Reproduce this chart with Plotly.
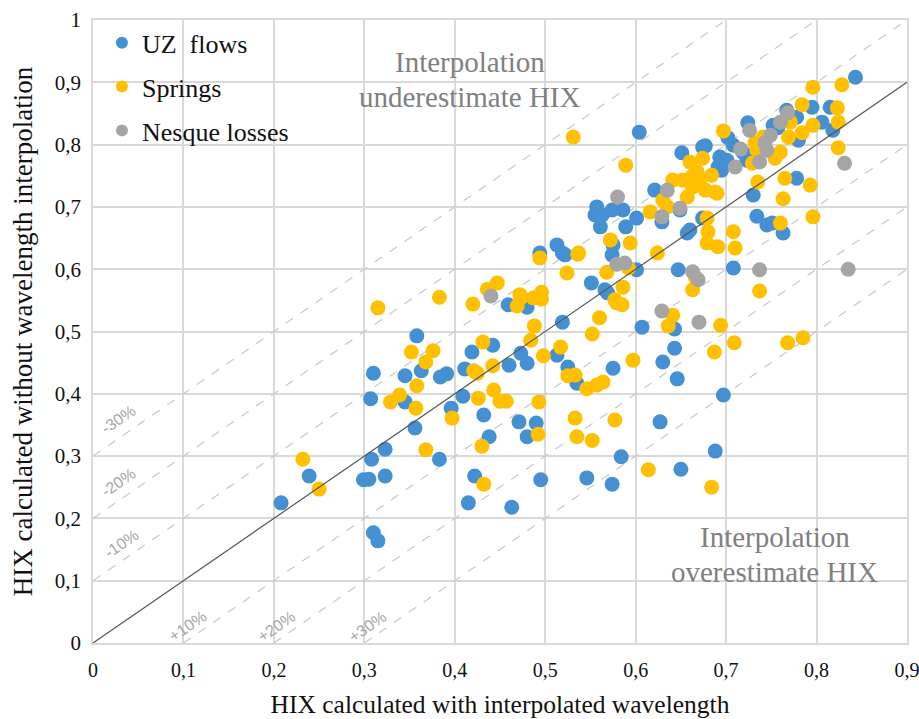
import plotly.graph_objects as go

# ---------------- data ----------------
uz_x = [0.208, 0.239, 0.310, 0.307, 0.308, 0.299, 0.305, 0.310, 0.315, 0.323, 0.323,
        0.358, 0.345, 0.363, 0.384, 0.391, 0.419, 0.442, 0.411, 0.460, 0.473, 0.480,
        0.519, 0.513, 0.525, 0.535, 0.345, 0.356, 0.409, 0.396, 0.432, 0.471, 0.490,
        0.480, 0.438, 0.383, 0.422, 0.495, 0.415, 0.463, 0.627, 0.688, 0.584, 0.546,
        0.574, 0.650, 0.607, 0.643, 0.643, 0.630, 0.646, 0.575, 0.697, 0.494, 0.519,
        0.459, 0.480, 0.604, 0.651, 0.674, 0.693, 0.697, 0.695, 0.557, 0.563, 0.574,
        0.586, 0.555, 0.561, 0.589, 0.601, 0.621, 0.629, 0.649, 0.657, 0.674, 0.513,
        0.522, 0.575, 0.574, 0.601, 0.647, 0.551, 0.566, 0.569, 0.843, 0.795, 0.815,
        0.767, 0.778, 0.724, 0.752, 0.757, 0.806, 0.818, 0.780, 0.702, 0.708, 0.677,
        0.701, 0.691, 0.719, 0.723, 0.778, 0.730, 0.734, 0.745, 0.751, 0.763, 0.708,
        0.660]
uz_y = [0.225, 0.268, 0.433, 0.392, 0.295, 0.262, 0.263, 0.177, 0.164, 0.268, 0.311,
        0.493, 0.429, 0.437, 0.427, 0.432, 0.467, 0.478, 0.440, 0.446, 0.465, 0.449,
        0.515, 0.462, 0.443, 0.417, 0.387, 0.345, 0.396, 0.377, 0.366, 0.355, 0.353,
        0.331, 0.331, 0.295, 0.268, 0.262, 0.225, 0.218, 0.355, 0.308, 0.299, 0.265,
        0.255, 0.279, 0.507, 0.504, 0.473, 0.451, 0.424, 0.441, 0.398, 0.626, 0.626,
        0.543, 0.539, 0.820, 0.787, 0.796, 0.780, 0.770, 0.759, 0.700, 0.687, 0.695,
        0.695, 0.687, 0.668, 0.668, 0.682, 0.727, 0.676, 0.695, 0.658, 0.682, 0.639,
        0.623, 0.639, 0.623, 0.599, 0.599, 0.578, 0.567, 0.562, 0.908, 0.860, 0.860,
        0.855, 0.844, 0.835, 0.831, 0.827, 0.836, 0.823, 0.807, 0.811, 0.799, 0.798,
        0.775, 0.764, 0.787, 0.775, 0.746, 0.719, 0.685, 0.671, 0.674, 0.658, 0.602,
        0.663]

springs_x = [0.232, 0.250, 0.315, 0.383, 0.420, 0.436, 0.447, 0.469, 0.474, 0.487,
             0.496, 0.496, 0.488, 0.484, 0.498, 0.517, 0.525, 0.533, 0.431, 0.442,
             0.421, 0.425, 0.376, 0.352, 0.368, 0.358, 0.329, 0.339, 0.357, 0.397,
             0.426, 0.443, 0.450, 0.457, 0.493, 0.492, 0.533, 0.535, 0.368, 0.430,
             0.432, 0.494, 0.524, 0.536, 0.552, 0.614, 0.684, 0.577, 0.552, 0.560,
             0.579, 0.585, 0.597, 0.641, 0.636, 0.694, 0.709, 0.687, 0.768, 0.785,
             0.546, 0.557, 0.564, 0.531, 0.589, 0.697, 0.660, 0.674, 0.668, 0.684,
             0.688, 0.677, 0.662, 0.641, 0.652, 0.671, 0.657, 0.630, 0.635, 0.616,
             0.572, 0.594, 0.537, 0.624, 0.679, 0.680, 0.679, 0.691, 0.568, 0.592,
             0.586, 0.577, 0.663, 0.472, 0.796, 0.828, 0.784, 0.823, 0.824, 0.796,
             0.771, 0.784, 0.769, 0.741, 0.740, 0.732, 0.734, 0.760, 0.754, 0.729,
             0.690, 0.663, 0.735, 0.765, 0.793, 0.824, 0.763, 0.796, 0.760, 0.708,
             0.710, 0.737, 0.666]
springs_y = [0.295, 0.247, 0.538, 0.555, 0.544, 0.568, 0.578, 0.541, 0.555, 0.554,
             0.563, 0.552, 0.509, 0.486, 0.461, 0.475, 0.429, 0.430, 0.483, 0.445,
             0.437, 0.433, 0.469, 0.467, 0.451, 0.413, 0.387, 0.398, 0.377, 0.361,
             0.393, 0.406, 0.388, 0.388, 0.387, 0.335, 0.361, 0.331, 0.310, 0.316,
             0.255, 0.618, 0.594, 0.624, 0.325, 0.278, 0.250, 0.358, 0.496, 0.522,
             0.546, 0.543, 0.454, 0.526, 0.509, 0.510, 0.482, 0.467, 0.482, 0.490,
             0.408, 0.414, 0.419, 0.812, 0.767, 0.822, 0.772, 0.778, 0.756, 0.751,
             0.724, 0.727, 0.748, 0.743, 0.743, 0.743, 0.716, 0.711, 0.700, 0.692,
             0.647, 0.642, 0.626, 0.626, 0.682, 0.660, 0.642, 0.636, 0.595, 0.602,
             0.571, 0.551, 0.567, 0.559, 0.892, 0.896, 0.864, 0.859, 0.836, 0.831,
             0.836, 0.819, 0.812, 0.812, 0.796, 0.803, 0.791, 0.788, 0.778, 0.770,
             0.722, 0.732, 0.740, 0.746, 0.735, 0.795, 0.713, 0.684, 0.674, 0.660,
             0.634, 0.565, 0.587]

nesque_x = [0.440, 0.580, 0.635, 0.649, 0.629, 0.579, 0.588, 0.663, 0.669, 0.629,
            0.670, 0.768, 0.760, 0.726, 0.749, 0.743, 0.745, 0.716, 0.737, 0.710,
            0.831, 0.737, 0.835]
nesque_y = [0.557, 0.716, 0.727, 0.698, 0.684, 0.608, 0.610, 0.596, 0.583, 0.533,
            0.515, 0.851, 0.836, 0.823, 0.815, 0.803, 0.791, 0.793, 0.772, 0.764,
            0.770, 0.599, 0.600]

series_names = ["UZ\u00a0 flows", "Springs", "Nesque losses"]
series_colors = ["#4590D3", "#FFC000", "#A5A5A5"]

offsets = [0.3, 0.2, 0.1, -0.1, -0.2, -0.3]
offset_labels = ["-30%", "-20%", "-10%", "+10%", "+20%", "+30%"]

x_ticks = [0, 0.1, 0.2, 0.3, 0.4, 0.5, 0.6, 0.7, 0.8, 0.9]
x_ticktext = ["0", "0,1", "0,2", "0,3", "0,4", "0,5", "0,6", "0,7", "0,8", "0,9"]
y_ticks = [0, 0.1, 0.2, 0.3, 0.4, 0.5, 0.6, 0.7, 0.8, 0.9, 1.0]
y_ticktext = ["0", "0,1", "0,2", "0,3", "0,4", "0,5", "0,6", "0,7", "0,8", "0,9", "1"]

XMAX, YMAX = 0.9, 1.0
SERIF = "Liberation Serif"
SANS = "Liberation Sans"

fig = go.Figure()
for name, color, xs, ys in zip(series_names, series_colors,
                               [uz_x, springs_x, nesque_x],
                               [uz_y, springs_y, nesque_y]):
    fig.add_trace(go.Scatter(
        x=xs, y=ys, mode="markers", name=name, legendgroup=name,
        marker=dict(color=color, size=15, line=dict(width=0)),
    ))

# reference lines y = x + offset (dashed) and y = x (solid)
shapes = []
for off in offsets:
    x0 = max(0.0, -off)
    y0 = x0 + off
    x1 = min(XMAX, YMAX - off)
    y1 = x1 + off
    shapes.append(dict(type="line", xref="x", yref="y", x0=x0, y0=y0, x1=x1, y1=y1,
                       line=dict(color="#C8C8C8", width=1.2, dash="dash"), layer="between"))
shapes.append(dict(type="line", xref="x", yref="y", x0=0, y0=0, x1=XMAX, y1=XMAX,
                   line=dict(color="#555555", width=1.2), layer="above"))

annotations = []
pct_pos = [(0.028, 0.358), (0.028, 0.257), (0.032, 0.159),
           (0.104, 0.027), (0.203, 0.026), (0.304, 0.026)]
for lab, (px, py) in zip(offset_labels, pct_pos):
    annotations.append(dict(x=px, y=py, xref="x", yref="y", text=lab, showarrow=False,
                            textangle=-34.6, font=dict(family=SANS, size=16, color="#A6A6A6")))
for txt, px, py in [("Interpolation", 0.417, 0.933), ("underestimate HIX", 0.417, 0.877),
                    ("Interpolation", 0.754, 0.170), ("overestimate HIX", 0.754, 0.114)]:
    annotations.append(dict(x=px, y=py, xref="x", yref="y", text=txt, showarrow=False,
                            font=dict(family=SERIF, size=29, color="#808080")))

fig.update_layout(
    width=919, height=719,
    margin=dict(l=93, r=12, t=20, b=76, autoexpand=False),
    paper_bgcolor="white", plot_bgcolor="white",
    shapes=shapes, annotations=annotations,
    showlegend=True,
    legend=dict(x=0.011, y=1.001, xanchor="left", yanchor="top",
                bgcolor="rgba(0,0,0,0)", tracegroupgap=7,
                font=dict(family=SERIF, size=26, color="#111111"),
                itemsizing="constant"),
    xaxis=dict(range=[0, XMAX], tickvals=x_ticks, ticktext=x_ticktext,
               showgrid=True, gridcolor="#D9D9D9", gridwidth=1.5, automargin=False,
               showline=True, linecolor="#D9D9D9", linewidth=1.5, mirror=True,
               zeroline=False, ticks="", ticklen=0, ticklabelstandoff=8,
               ticklabeloverflow="allow",
               tickfont=dict(family=SERIF, size=20, color="#111111"),
               title=dict(text="HIX calculated with interpolated wavelength",
                          font=dict(family=SERIF, size=25.5, color="#111111"), standoff=16)),
    yaxis=dict(range=[0, YMAX], tickvals=y_ticks, ticktext=y_ticktext,
               showgrid=True, gridcolor="#D9D9D9", gridwidth=1.5, automargin=False,
               showline=True, linecolor="#D9D9D9", linewidth=1.5, mirror=True,
               zeroline=False, ticks="", ticklen=0, ticklabelstandoff=6,
               tickfont=dict(family=SERIF, size=21, color="#111111"),
               title=dict(text="HIX calculated without wavelength interpolation",
                          font=dict(family=SERIF, size=27, color="#111111"), standoff=14)),
)

fig.write_html("out.html")
